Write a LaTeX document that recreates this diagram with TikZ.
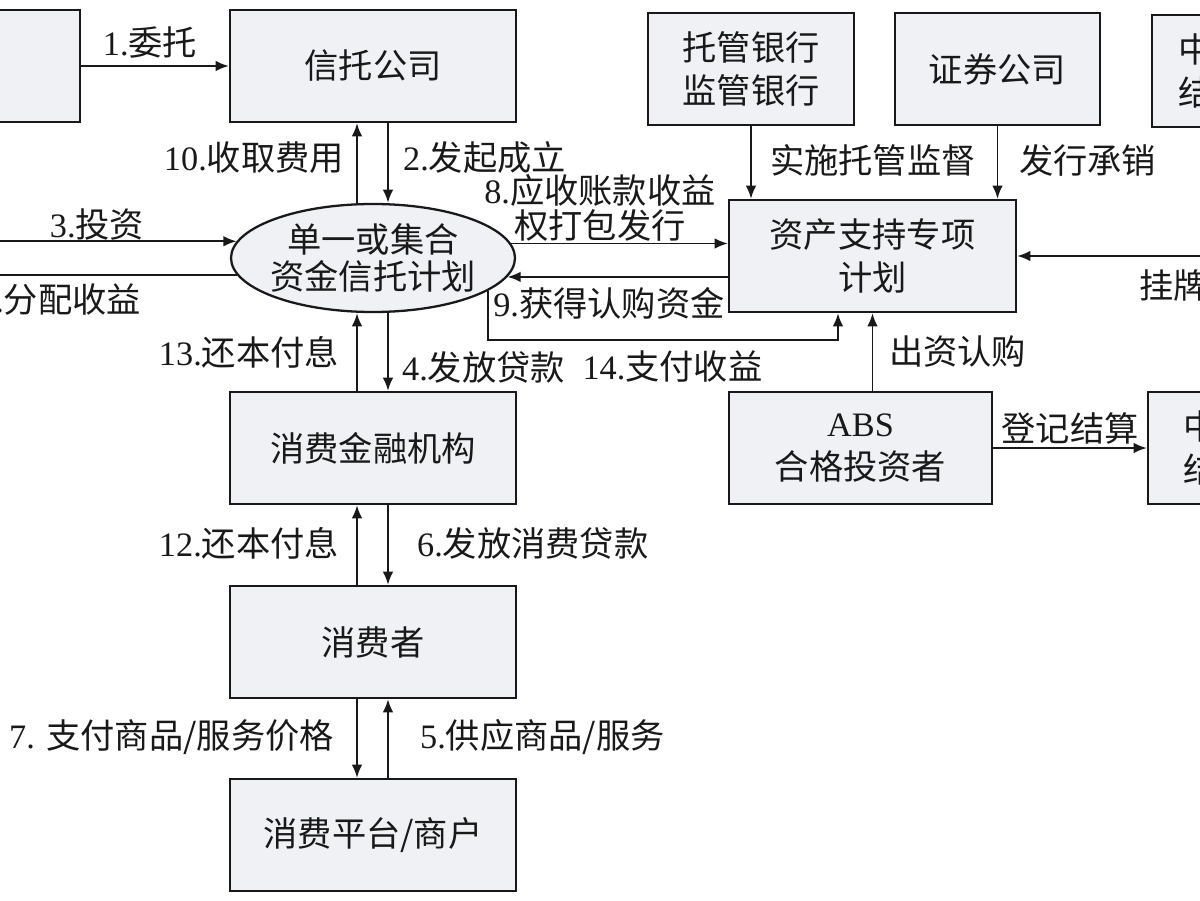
\documentclass[tikz,border=0pt]{standalone}
\usepackage{fontspec}
\setmainfont{Liberation Serif}
\newfontfamily\cjk{Noto Sans CJK SC}
\usetikzlibrary{arrows.meta,shapes.geometric}
\definecolor{boxfill}{RGB}{239,241,245}

\begin{document}
\begin{tikzpicture}[
  x=1cm, y=1cm, >={Latex[length=7.5pt,width=6pt]},
  font=\fontsize{19.5}{19.5}\selectfont,
  party/.style={draw=black!90, line width=1.3pt, fill=boxfill, align=center,
    minimum width=5.72cm, minimum height=2.24cm, inner sep=2pt,
    text=black!90, font=\fontsize{19.5}{24}\selectfont\cjk},
  pool/.style={ellipse, draw=black!90, line width=1.3pt, fill=boxfill,
    align=center, minimum width=5.68cm, minimum height=2.16cm,
    inner xsep=-0.2cm, inner ysep=0pt, text=black!90,
    font=\fontsize{19.5}{21.5}\selectfont\cjk},
  flow/.style={->, line width=1.1pt, black!90},
  lab/.style={inner sep=1pt, text=black!90}
]
  \useasboundingbox (0,0) rectangle (24,18);

  %% ============================================ the trust side
  \node[party, minimum width=4.00cm] (entrust) at (-0.40,16.68) {};
  \node[party] (trust) at (7.46,16.68) {信托公司};
  \node[pool] (fund) at (7.46,12.84) {单一或集合\\资金信托计划};

  \draw[flow] (entrust.east) -- (trust.west);
  \node[lab] at (3.00,17.16) {1.\cjk 委托};

  \draw[flow] ([xshift=-0.32cm]fund.north) -- ([xshift=-0.32cm]trust.south);
  \node[lab, anchor=east] at (6.92,14.84) {10.\cjk 收取费用};
  \draw[flow] ([xshift=0.30cm]trust.south) -- ([xshift=0.30cm]fund.north);
  \node[lab, anchor=west] at (8.02,14.84) {2.\cjk 发起成立};

  % investors of the trust sit beyond the left border
  \coordinate (leftedge) at (-0.50,0);
  \draw[flow] (fund.173.7 -| leftedge) -- (fund.173.7);
  \node[lab] at (1.94,13.50) {3.\cjk 投资};
  \draw[flow] (fund.187.7) -- (fund.187.7 -| leftedge);
  \node[lab, anchor=east] at (2.86,12.00) {11.\cjk 分配收益};

  %% ============================================ the consumer chain
  \node[party] (lender) at (7.46,9.04) {消费金融机构};
  \node[party] (consumer) at (7.46,5.16) {消费者};
  \node[party] (merchant) at (7.46,1.30) {消费平台/商户};

  \draw[flow] ([xshift=-0.32cm]lender.north) -- ([xshift=-0.32cm]fund.south);
  \node[lab, anchor=east] at (6.82,10.96) {13.\cjk 还本付息};
  \draw[flow] ([xshift=0.30cm]fund.south) -- ([xshift=0.30cm]lender.north);
  \node[lab, anchor=west] at (8.00,10.66) {4.\cjk 发放贷款};

  \draw[flow] ([xshift=-0.32cm]consumer.north) -- ([xshift=-0.32cm]lender.south);
  \node[lab, anchor=east] at (6.82,7.14) {12.\cjk 还本付息};
  \draw[flow] ([xshift=0.30cm]lender.south) -- ([xshift=0.30cm]consumer.north);
  \node[lab, anchor=west] at (8.30,7.14) {6.\cjk 发放消费贷款};

  \draw[flow] ([xshift=-0.32cm]consumer.south) -- ([xshift=-0.32cm]merchant.north);
  \node[lab, anchor=east] at (6.72,3.26) {7. \cjk 支付商品/服务价格};
  \draw[flow] ([xshift=0.30cm]merchant.north) -- ([xshift=0.30cm]consumer.south);
  \node[lab, anchor=west] at (8.36,3.26) {5.\cjk 供应商品/服务};

  %% ============================================ the ABS side
  \node[party, minimum width=4.12cm] (custody) at (15.02,16.62) {托管银行\\监管银行};
  \node[party, minimum width=4.10cm] (broker) at (19.95,16.62) {证券公司};
  \node[party, minimum width=4.00cm, text width=2.96cm, inner xsep=0.52cm,
    align=left] (csdcA) at (25.04,16.58) {中\\结};
  \node[party, minimum width=5.74cm] (plan) at (17.45,12.88) {资产支持专项\\计划};
  \node[party, minimum width=5.26cm] (investors) at (17.21,9.04)
    {{\rmfamily ABS}\\合格投资者};
  \node[party, minimum width=4.00cm, text width=2.60cm, inner xsep=0.70cm,
    align=left] (csdcB) at (24.96,9.04) {中\\结};

  \draw[flow] (custody.south) -- (custody.south |- plan.north);
  \node[lab, anchor=west] at (15.36,14.80) {\cjk 实施托管监督};
  \draw[flow] (broker.south) -- (broker.south |- plan.north);
  \node[lab, anchor=west] at (20.34,14.80) {\cjk 发行承销};

  \coordinate (exR) at (24.50,12.88);
  \draw[flow] (exR) -- (plan.east);
  \node[lab, anchor=west] at (22.74,12.30) {\cjk 挂牌};

  \draw[flow] (fund.6.3) -- (fund.6.3 -| plan.west);
  \node[lab, align=center] at (12.00,13.84) {8.\cjk 应收账款收益\\\cjk 权打包发行};
  \draw[flow] (plan.west |- fund.352.8) -- (fund.352.8);
  \node[lab] at (12.18,11.94) {9.\cjk 获得认购资金};

  \coordinate (turn14) at (0,11.20);
  \draw[flow] (fund.344.6) -- (fund.344.6 |- turn14) -| ([xshift=-0.69cm]plan.south);
  \node[lab] at (13.45,10.66) {14.\cjk 支付收益};

  \draw[flow] (plan.south |- investors.north) -- (plan.south);
  \node[lab, anchor=west] at (17.74,10.96) {\cjk 出资认购};

  \draw[flow] (investors.east) -- (csdcB.west);
  \node[lab] at (21.40,9.44) {\cjk 登记结算};

\end{tikzpicture}
\end{document}
